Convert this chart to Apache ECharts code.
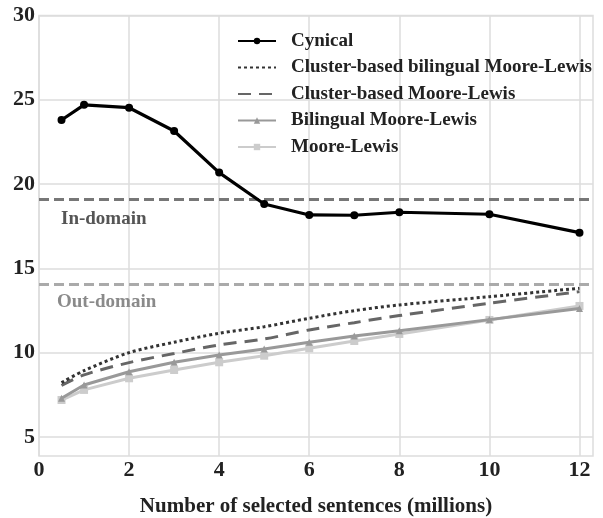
<!DOCTYPE html>
<html>
<head>
<meta charset="utf-8">
<script src="https://cdn.jsdelivr.net/npm/echarts@6/dist/echarts.min.js"></script>
<style>
html,body{margin:0;padding:0;background:#fff;}
#chart{width:603px;height:518px;}
</style>
</head>
<body>
<div id="chart"></div>
<script>
const xValues = [0.5, 1, 2, 3, 4, 5, 6, 7, 8, 10, 12];
const cynical = [23.8, 24.7, 24.53, 23.15, 20.68, 18.82, 18.17, 18.15, 18.33, 18.21, 17.12];
const clusterBilingualML = [8.22, 8.93, 10.0, 10.62, 11.15, 11.54, 12.04, 12.49, 12.83, 13.32, 13.82];
const clusterML = [8.05, 8.68, 9.41, 9.95, 10.46, 10.81, 11.35, 11.78, 12.2, 12.93, 13.62];
const bilingualML = [7.3, 8.08, 8.87, 9.43, 9.86, 10.22, 10.62, 10.99, 11.3, 11.96, 12.62];
const mooreLewis = [7.19, 7.79, 8.48, 8.97, 9.43, 9.82, 10.26, 10.69, 11.11, 11.94, 12.77];
const inDomain = 19.08;
const outDomain = 14.07;
const yTicks = [5, 10, 15, 20, 25, 30];
const xTicks = [0, 2, 4, 6, 8, 10, 12];
const seriesNames = ['Cynical', 'Cluster-based bilingual Moore-Lewis', 'Cluster-based Moore-Lewis', 'Bilingual Moore-Lewis', 'Moore-Lewis'];

function pairs(ys) { return xValues.map((x, i) => [x, ys[i]]); }

const FONT = '"Liberation Serif", "Times New Roman", serif';
const chart = echarts.init(document.getElementById('chart'), null, {renderer: 'canvas'});
const gridColor = '#dddddd';

chart.setOption({
  animation: false,
  backgroundColor: '#ffffff',
  grid: {left: 39, right: 10, top: 15.5, bottom: 62, show: true, borderColor: gridColor, borderWidth: 1.5,
         containLabel: false, outerBoundsMode: 'none'},
  legend: {
    orient: 'vertical',
    left: 237,
    top: 31,
    padding: 0,
    itemWidth: 38,
    itemHeight: 8,
    itemGap: 6.5,
    data: [
      {name: seriesNames[0]},
      {name: seriesNames[1], itemStyle: {opacity: 0}},
      {name: seriesNames[2], itemStyle: {opacity: 0}},
      {name: seriesNames[3]},
      {name: seriesNames[4]}
    ],
    textStyle: {fontFamily: FONT, fontWeight: 'bold', fontSize: 19, color: '#222', lineHeight: 20, padding: [0, 0, 0, 10]}
  },
  xAxis: {
    type: 'value', min: 0, max: 12.3,
    name: 'Number of selected sentences (millions)',
    nameLocation: 'middle', nameGap: 40,
    nameTextStyle: {fontFamily: FONT, fontWeight: 'bold', fontSize: 21, color: '#222'},
    axisLine: {show: false},
    axisTick: {show: false, customValues: xTicks},
    splitLine: {show: true, lineStyle: {color: gridColor, width: 1.5}, customValues: xTicks},
    axisLabel: {customValues: xTicks, margin: 3, fontFamily: FONT, fontWeight: 'bold', fontSize: 22, color: '#222'}
  },
  yAxis: {
    type: 'value', min: 3.87, max: 30,
    axisLine: {show: false},
    axisTick: {show: false, customValues: yTicks},
    splitLine: {show: true, lineStyle: {color: gridColor, width: 1.5}, customValues: yTicks},
    axisLabel: {customValues: yTicks, margin: 4, fontFamily: FONT, fontWeight: 'bold', fontSize: 22, color: '#222'}
  },
  series: [
    {
      name: seriesNames[4], type: 'line', data: pairs(mooreLewis), z: 2,
      symbol: 'rect', symbolSize: 8,
      itemStyle: {color: '#cccccc'}, lineStyle: {color: '#cccccc', width: 3}
    },
    {
      name: seriesNames[3], type: 'line', data: pairs(bilingualML), z: 3,
      symbol: 'triangle', symbolSize: 7,
      itemStyle: {color: '#999999'}, lineStyle: {color: '#999999', width: 3}
    },
    {
      name: seriesNames[2], type: 'line', data: pairs(clusterML), z: 4, smooth: 0.3,
      symbol: 'none',
      itemStyle: {color: '#666666'}, lineStyle: {color: '#666666', width: 3, type: [13, 8], cap: 'butt'},
      markLine: {
        silent: true, symbol: 'none',
        data: [{yAxis: outDomain}],
        lineStyle: {color: '#aaaaaa', width: 3, type: [10, 5]},
        label: {show: true, formatter: 'Out-domain', position: 'insideStartBottom', distance: [18, 9],
          fontFamily: FONT, fontWeight: 'bold', fontSize: 19, color: '#8a8a8a'}
      }
    },
    {
      name: seriesNames[1], type: 'line', data: pairs(clusterBilingualML), z: 5, smooth: 0.3,
      symbol: 'none',
      itemStyle: {color: '#333333'}, lineStyle: {color: '#333333', width: 3, type: [3, 3], cap: 'butt'}
    },
    {
      name: seriesNames[0], type: 'line', data: pairs(cynical), z: 6,
      symbol: 'circle', symbolSize: 8,
      itemStyle: {color: '#000000'}, lineStyle: {color: '#000000', width: 3.2},
      markLine: {
        silent: true, symbol: 'none',
        data: [{yAxis: inDomain}],
        lineStyle: {color: '#777777', width: 3, type: [10, 5]},
        label: {show: true, formatter: 'In-domain', position: 'insideStartBottom', distance: [22, 10],
          fontFamily: FONT, fontWeight: 'bold', fontSize: 19, color: '#555555'}
      }
    }
  ]
});
</script>
</body>
</html>
